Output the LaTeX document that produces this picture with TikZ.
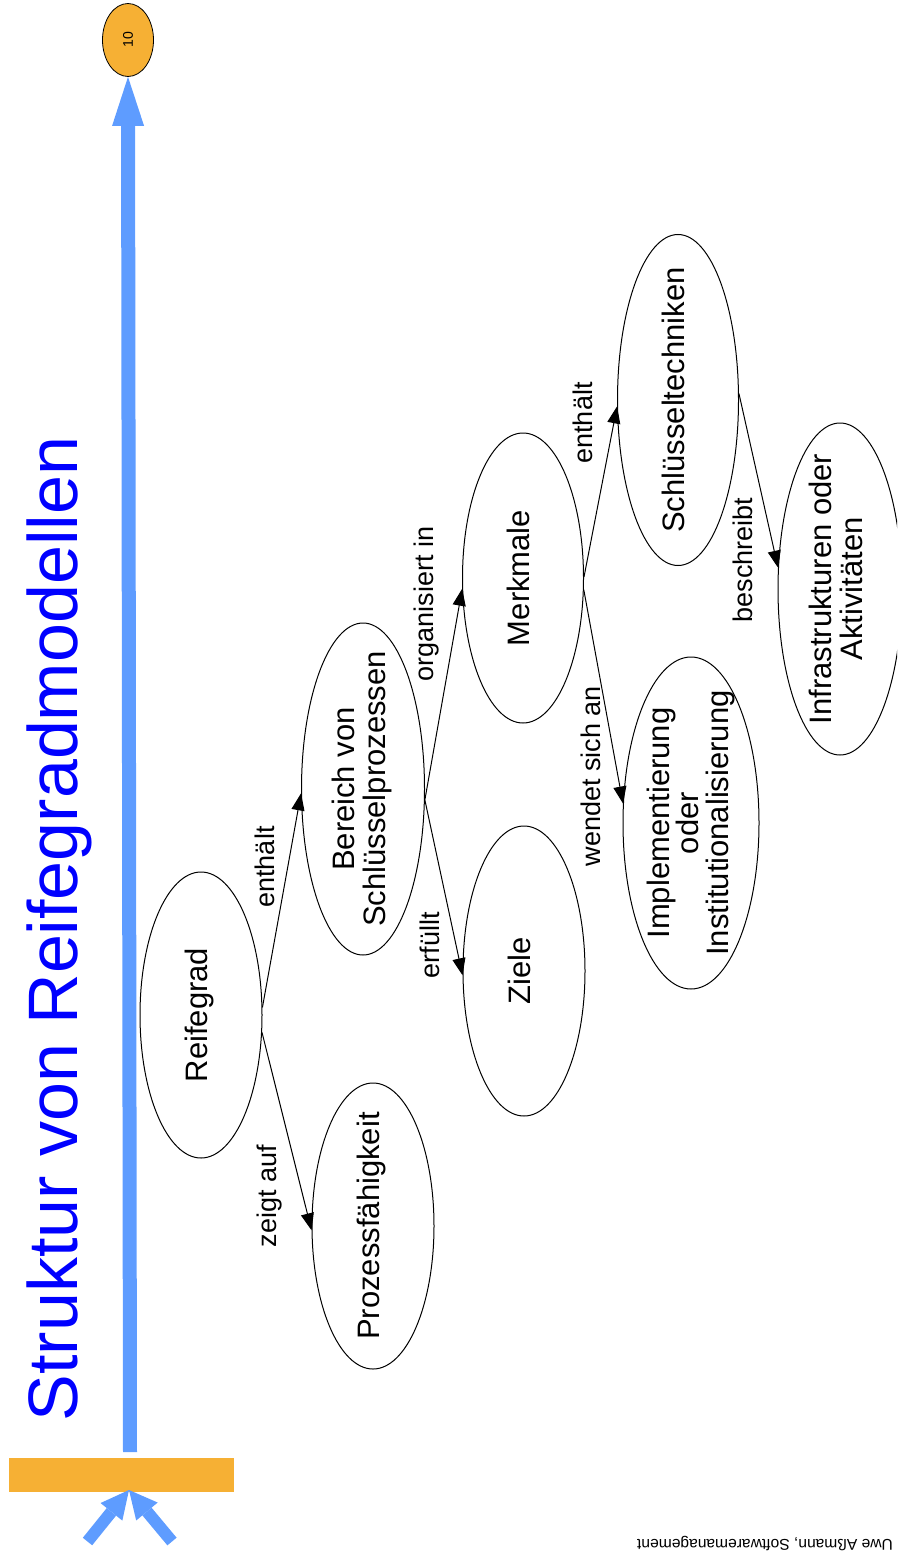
\documentclass[tikz,border=0pt]{standalone}
\usepackage{graphicx}
\usepackage{fontspec}
\setmainfont{Liberation Sans}
\usetikzlibrary{arrows.meta,shapes.geometric,calc}

\definecolor{titleblue}{RGB}{0,0,255}
\definecolor{axisblue}{RGB}{94,156,255}
\definecolor{levelorange}{RGB}{246,176,52}

% upright-reading text turned by 90 degrees, one or more centred lines
\newcommand{\turned}[2]{\rotatebox{90}{\fontsize{31}{#1}\selectfont\begin{tabular}{@{}c@{}}#2\end{tabular}}}

\tikzset{
  concept/.style n args={3}{ellipse, draw, line width=1pt, inner sep=0pt,
    minimum width=#1pt, minimum height=#2pt, label={center:#3}},
  rel/.style={draw, line width=1pt, -{Triangle[length=17pt,width=13pt]}},
  edgelabel/.style={rotate=90, anchor=base, inner sep=0pt,
    font=\fontsize{27}{27}\selectfont},
  heading/.style={rotate=90, anchor=base, inner sep=0pt, text=titleblue,
    font=\fontsize{70}{70}\selectfont},
  footer/.style={rotate=180, anchor=base, inner sep=0pt,
    font=\fontsize{15.6}{15.6}\selectfont},
  axisarrow/.style={draw=axisblue, line width=14pt,
    -{Triangle[length=49pt,width=32pt,line width=0pt]}},
  feedarrow/.style={draw=axisblue, line width=12pt,
    -{Triangle[length=28pt,width=28pt,line width=0pt]}},
}

\begin{document}
\begin{tikzpicture}[x=1pt,y=-1pt]
\useasboundingbox (0,0) rectangle (897,1554);
\clip (0,0) rectangle (897,1554);

% heading
\node[heading] (title) at (77,929) {Struktur von Reifegradmodellen};

% maturity axis: base bar, level marker and the arrows
\node[fill=levelorange, minimum width=225pt, minimum height=34pt, inner sep=0pt] (bar) at (121.5,1475) {};
\node[ellipse, draw, line width=0.8pt, fill=levelorange, minimum width=51pt,
      minimum height=73pt, inner sep=0pt] (lvl) at (128,40)
      {\rotatebox{90}{\fontsize{14}{14}\selectfont 10}};
\coordinate (axisfoot) at (130,1452);
\draw[axisarrow] (axisfoot) -- (lvl.south);

\coordinate (hit) at (129,1490);
\coordinate (tailL) at (87.5,1541.5);
\coordinate (tailR) at (172,1541.5);
\draw[feedarrow] (tailL) -- (hit);
\draw[feedarrow] (tailR) -- (hit);

% concepts
\node[concept={122}{286}{\turned{29}{Reifegrad}}] (reif) at (201,1015) {};
\node[concept={122}{286}{\turned{29}{Prozessfähigkeit}}] (proz) at (373,1226) {};
\node[concept={123}{332}{\turned{29}{Bereich von\\Schlüsselprozessen}}] (ber) at (363,789) {};
\node[concept={122}{290}{\turned{29}{Ziele}}] (ziele) at (524,971) {};
\node[concept={121}{290}{\turned{29}{Merkmale}}] (merk) at (523,578) {};
\node[concept={136}{332}{\turned{23.5}{Implementierung\\oder\\Institutionalisierung}}] (impl) at (691,823) {};
\node[concept={121}{331}{\turned{29}{Schlüsseltechniken}}] (schl) at (678,400) {};
\node[concept={124}{332}{\turned{30}{Infrastrukturen oder\\Aktivitäten}}] (infra) at (840,589) {};

% relations
\draw[rel] (reif.7) -- (ber.184);
\draw[rel] (reif.-16) -- (proz.184);
\draw[rel] (ber.-10) -- (merk.190);
\draw[rel] (ber.-10) -- (ziele.184);
\draw[rel] (merk.1) -- (schl.186);
\draw[rel] (merk.-11) -- (impl.164);
\draw[rel] (schl.6) -- (infra.161);

% relation names
\node[edgelabel] (lb1) at (274,867) {enthält};
\node[edgelabel] (lb2) at (276,1196) {zeigt auf};
\node[edgelabel] (lb3) at (433,604) {organisiert in};
\node[edgelabel] (lb4) at (439,945) {erfüllt};
\node[edgelabel] (lb5) at (592,423) {enthält};
\node[edgelabel] (lb6) at (600,776) {wendet sich an};
\node[edgelabel] (lb7) at (752,560) {beschreibt};

% footer
\node[footer] (foot) at (765,1539) {Uwe Aßmann, Softwaremanagement};
\end{tikzpicture}
\end{document}
